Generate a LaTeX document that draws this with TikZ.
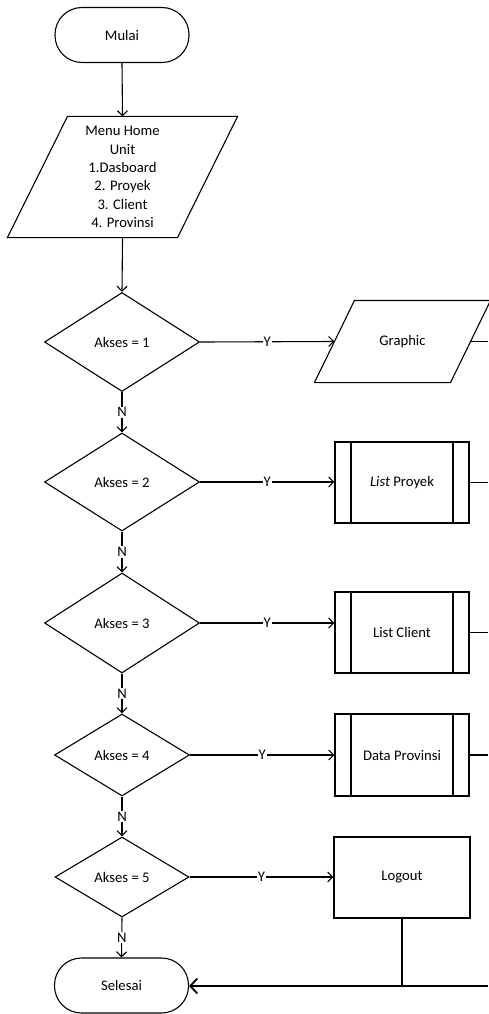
\documentclass[tikz,border=0pt]{standalone}
\usepackage{fontspec}
\setmainfont{Carlito}
\usetikzlibrary{shapes.geometric,arrows.meta,calc}

\begin{document}
\begin{tikzpicture}[x=1pt,y=-1pt,
  line width=1.1pt,
  every node/.style={font=\fontsize{14.67}{18.3}\selectfont},
  terminal/.style={draw,rectangle,rounded corners=27pt,minimum width=134pt,minimum height=55pt,inner sep=0pt},
  iobox/.style={rectangle,draw=none,inner sep=0pt,align=center},
  decision/.style={draw,diamond,inner sep=0pt},
  procbox/.style={draw,rectangle,inner sep=0pt},
  predef/.style={draw,rectangle,inner sep=0pt,
    path picture={
      \draw ([xshift=16pt]path picture bounding box.north west) -- ([xshift=16pt]path picture bounding box.south west);
      \draw ([xshift=-16pt]path picture bounding box.north east) -- ([xshift=-16pt]path picture bounding box.south east);
    }},
  flow/.style={-{Straight Barb[length=5pt,width=10pt]}},
  lbl/.style={fill=white,inner sep=1pt}
]
\useasboundingbox (0,0) rectangle (488,1014);

% start / end terminals
\node[terminal] (start) at (122,35) {Mulai};
\node[terminal] (stop) at (121.5,985.5) {Selesai};

% menu input (parallelogram)
\node[iobox,minimum width=169pt,minimum height=120pt] (menu) at (122.5,177)
  {Menu Home\\Unit\\1.Dasboard\\2. Proyek\\3. Client\\4. Provinsi};
\draw ([xshift=30pt]menu.north west) -- ([xshift=30pt]menu.north east)
   -- ([xshift=-30pt]menu.south east) -- ([xshift=-30pt]menu.south west) -- cycle;

% decisions
\node[decision,minimum width=155pt,minimum height=99pt] (d1) at (122,342) {Akses = 1};
\node[decision,minimum width=155pt,minimum height=98pt] (d2) at (122,482) {Akses = 2};
\node[decision,minimum width=155pt,minimum height=100pt] (d3) at (122,623) {Akses = 3};
\node[decision,minimum width=135pt,minimum height=82pt] (d4) at (122,755) {Akses = 4};
\node[decision,minimum width=134pt,minimum height=80pt] (d5) at (122,877) {Akses = 5};

% output: graphic (parallelogram)
\node[iobox,minimum width=135pt,minimum height=81pt] (graph) at (402.5,341.5) {Graphic};
\draw ([xshift=20pt]graph.north west) -- ([xshift=20pt]graph.north east)
   -- ([xshift=-20pt]graph.south east) -- ([xshift=-20pt]graph.south west) -- cycle;

% predefined processes
\node[predef,minimum width=134pt,minimum height=81pt] (lproyek) at (402,482.5) {\textit{List} Proyek};
\node[predef,minimum width=134pt,minimum height=81pt] (lclient) at (402,632.5) {List Client};
\node[predef,minimum width=134pt,minimum height=82pt] (dprov) at (402,755) {Data Provinsi};

% logout process
\node[procbox,minimum width=136pt,minimum height=81pt] (logout) at (402,877.5) {Logout};

% return rail at the right edge
\coordinate (rail) at (488,986);

% main flow
\draw[flow] (start.south) -- (menu.north);
\draw[flow] (menu.south) -- (d1.north);
\draw[flow] (d1.south) -- node[lbl] {N} (d2.north);
\draw[flow] (d2.south) -- node[lbl] {N} (d3.north);
\draw[flow] (d3.south) -- node[lbl] {N} (d4.north);
\draw[flow] (d4.south) -- node[lbl] {N} (d5.north);
\draw[flow] (d5.south) -- node[lbl] {N} (stop.north);

% yes branches
\draw[flow] (d1.east) -- node[lbl] {Y} (graph.west);
\draw[flow] (d2.east) -- node[lbl] {Y} (d2.east -| lproyek.west);
\draw[flow] (d3.east) -- node[lbl] {Y} (d3.east -| lclient.west);
\draw[flow] (d4.east) -- node[lbl] {Y} (d4.east -| dprov.west);
\draw[flow] (d5.east) -- node[lbl] {Y} (d5.east -| logout.west);

% outputs back to the rail
\draw (graph.east) -- (graph.east -| rail);
\draw (lproyek.east) -- (lproyek.east -| rail);
\draw (lclient.east) -- (lclient.east -| rail);
\draw (dprov.east) -- (dprov.east -| rail);
\draw (logout.south) -- (logout.south |- rail);
\draw[line width=1.8pt,-{Straight Barb[length=7pt,width=15pt]}] (rail) -- (rail -| stop.east);
\end{tikzpicture}
\end{document}
